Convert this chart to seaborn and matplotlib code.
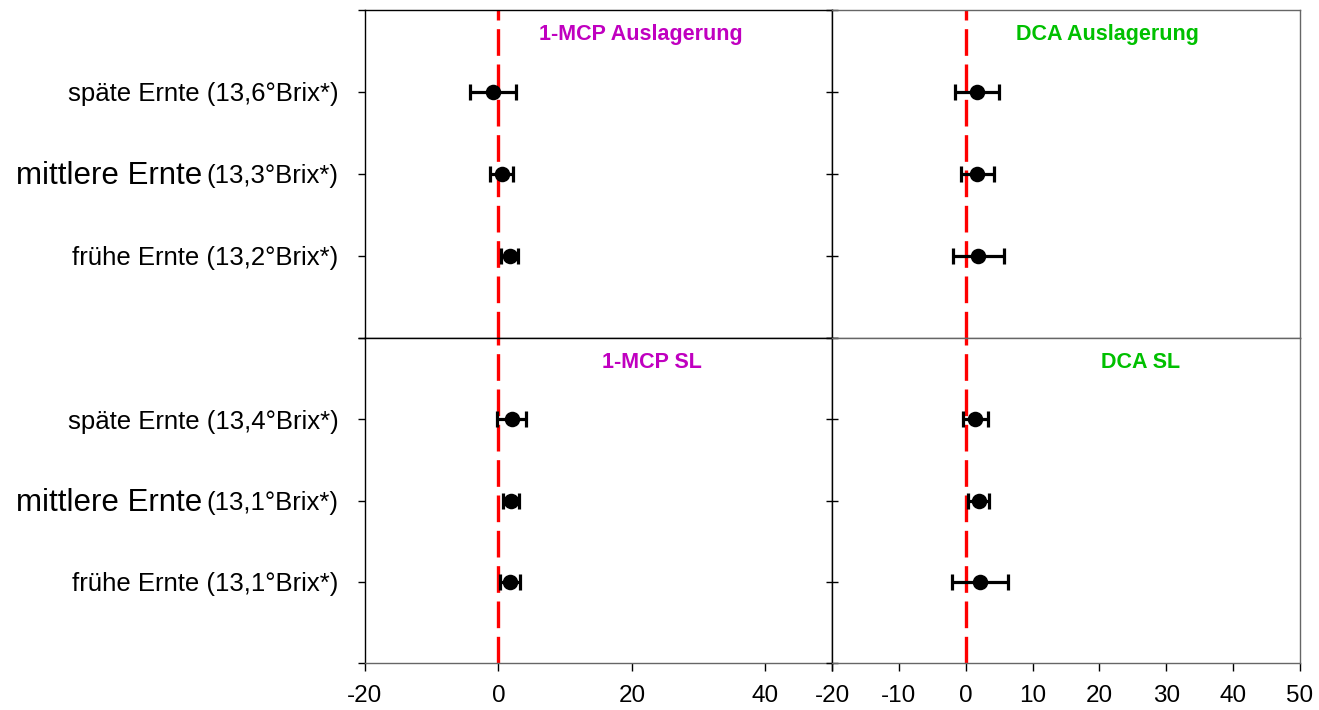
import matplotlib
matplotlib.use("Agg")
import matplotlib.pyplot as plt
import seaborn as sns
import pandas as pd

# harvest groups, bottom to top
harvests = ["frühe Ernte", "mittlere Ernte", "späte Ernte"]
brix_auslagerung = ["13,2", "13,3", "13,6"]
brix_sl = ["13,1", "13,1", "13,4"]

# mean difference and error per harvest (frühe, mittlere, späte)
mcp_ausl_mean = [1.7, 0.5, -0.8]
mcp_ausl_err = [1.3, 1.7, 3.4]
dca_ausl_mean = [1.9, 1.75, 1.65]
dca_ausl_err = [3.8, 2.5, 3.3]
mcp_sl_mean = [1.75, 1.9, 2.0]
mcp_sl_err = [1.55, 1.15, 2.2]
dca_sl_mean = [2.1, 1.95, 1.45]
dca_sl_err = [4.15, 1.55, 1.85]

titles = ["1-MCP Auslagerung", "DCA Auslagerung", "1-MCP SL", "DCA SL"]
title_colors = ["#C000C0", "#00C000", "#C000C0", "#00C000"]

sns.set_theme(style="white")
plt.rcParams["font.family"] = ["Liberation Sans", "DejaVu Sans"]
plt.rcParams["axes.unicode_minus"] = False
plt.rcParams["text.color"] = "black"
plt.rcParams["xtick.color"] = "black"
plt.rcParams["ytick.color"] = "black"

fig = plt.figure(figsize=(13.19, 7.10), dpi=100)
W, H = 1319, 710


def add_ax(x0, x1, y0, y1):
    return fig.add_axes([x0 / W, 1 - y1 / H, (x1 - x0) / W, (y1 - y0) / H])


ax_tl = add_ax(365, 832, 10, 338)
ax_tr = add_ax(832, 1300, 10, 338)
ax_bl = add_ax(365, 832, 338, 663)
ax_br = add_ax(832, 1300, 338, 663)

panels = [
    (ax_tl, mcp_ausl_mean, mcp_ausl_err, 0.59),
    (ax_tr, dca_ausl_mean, dca_ausl_err, 0.588),
    (ax_bl, mcp_sl_mean, mcp_sl_err, 0.614),
    (ax_br, dca_sl_mean, dca_sl_err, 0.66),
]

pos = [1, 2, 3]
for i, (ax, means, errs, tx) in enumerate(panels):
    df = pd.DataFrame({"pos": pos, "mean": means, "err": errs})
    ax.axvline(0, color="#FF0000", lw=2.4, linestyle=(0, (8, 2.6)), zorder=2)
    ax.errorbar(df["mean"], df["pos"], xerr=df["err"], fmt="none",
                ecolor="black", elinewidth=2.3, capsize=6, capthick=2.3, zorder=3)
    sns.scatterplot(data=df, x="mean", y="pos", ax=ax, color="black",
                    s=125, edgecolor="black", linewidth=0, zorder=4)
    ax.set_xlim(-20, 50)
    ax.set_ylim(0, 4)
    ax.set_xlabel("")
    ax.set_ylabel("")
    ax.set_yticks([0, 1, 2, 3, 4])
    ax.text(tx, 0.925, titles[i], transform=ax.transAxes, ha="center", va="center",
            color=title_colors[i], fontsize=15.5, fontweight="bold")
    for sp in ax.spines.values():
        sp.set_color("black")
        sp.set_linewidth(1.0)

# left column labels
for ax, brix in [(ax_tl, brix_auslagerung), (ax_bl, brix_sl)]:
    labels = ["",
              f"{harvests[0]} ({brix[0]}°Brix*)",
              f"({brix[1]}°Brix*)",
              f"{harvests[2]} ({brix[2]}°Brix*)",
              ""]
    ax.set_yticklabels(labels)
    ax.tick_params(axis="y", direction="out", length=5, width=1, color="black",
                   labelsize=18.5, pad=14, left=True)
    ax.annotate(harvests[1], xy=(0, 0.5), xycoords=ax.get_yticklabels()[2],
                xytext=(-3, 0), textcoords="offset points",
                ha="right", va="center", fontsize=22.5, color="black")

for ax in (ax_tr, ax_br):
    ax.set_yticklabels([])
    ax.tick_params(axis="y", direction="inout", length=8, width=1, color="black", left=True)
    for side in ("right", "top", "bottom"):
        ax.spines[side].set_color("#666666")

for ax in (ax_tl, ax_tr):
    ax.set_xticks([])

ax_bl.set_xticks([-20, 0, 20, 40, 50])
ax_bl.set_xticklabels(["-20", "0", "20", "40", ""])
ax_br.set_xticks(range(-20, 51, 10))
for ax in (ax_bl, ax_br):
    ax.tick_params(axis="x", direction="out", length=6, width=1, color="black",
                   labelsize=17.5, pad=10, bottom=True)
ax_bl.spines["bottom"].set_color("#666666")

fig.savefig("out.png", dpi=100)
